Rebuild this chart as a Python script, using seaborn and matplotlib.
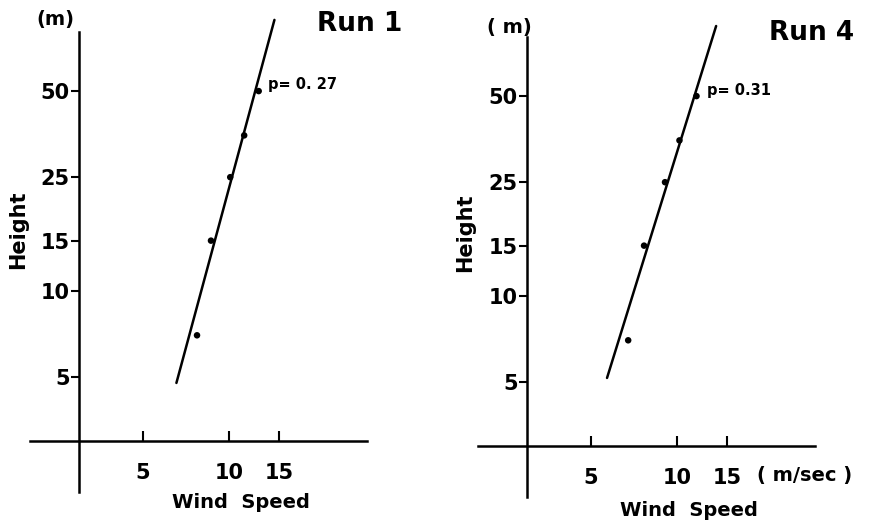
import numpy as np
import pandas as pd
import matplotlib
matplotlib.use("Agg")
import matplotlib.pyplot as plt
import seaborn as sns
from matplotlib.ticker import FixedLocator, FixedFormatter, NullLocator

# Measurement heights (m) and mean wind speeds (m/s) for two runs
heights = [7, 15, 25, 35, 50]
run1_speed = [7.73, 8.65, 10.1, 11.3, 12.7]
run4_speed = [6.75, 7.67, 9.08, 10.2, 11.7]

# Power-law fits u = u_ref * (z / z_ref) ** p
run_names = ["Run 1", "Run 4"]
p_values = [0.27, 0.31]
fit_ref_speed = [9.72, 8.83]
fit_ref_height = [20.6, 21.3]
fit_height_range = [(4.77, 88.7), (5.17, 87.9)]

x_ticks = [5, 10, 15]
x_ticklabels = ["5", "10", "15"]
y_ticks = [5, 10, 15, 25, 50]
y_ticklabels = ["5", "10", "15", "25", "50"]
axis_origin = 3.0

sns.set_style("white")
plt.rcParams["font.family"] = ["DejaVu Sans"]
plt.rcParams["text.color"] = "black"

W, H = 871, 523
fig = plt.figure(figsize=(W / 100, H / 100), dpi=100)

K = 286.0  # pixels per decade on both log axes


def px_to_val(offset):
    return 10 ** (1 + offset / K)


def make_panel(x10, y10):
    left, right = x10 - 204, x10 + 141
    top, bottom = y10 - 281, y10 + 209
    ax = fig.add_axes([left / W, 1 - bottom / H, (right - left) / W, (bottom - top) / H])
    ax.set_xscale("log")
    ax.set_yscale("log")
    ax.set_xlim(px_to_val(left - x10), px_to_val(right - x10))
    ax.set_ylim(px_to_val(-(bottom - y10)), px_to_val(-(top - y10)))
    ax.patch.set_alpha(0)
    for s in ["top", "right"]:
        ax.spines[s].set_visible(False)
    ax.spines["left"].set_position(("data", axis_origin))
    ax.spines["bottom"].set_position(("data", axis_origin))
    ax.spines["left"].set_bounds(px_to_val(-201), px_to_val(259))
    ax.spines["bottom"].set_bounds(px_to_val(-199), px_to_val(138))
    for s in ["left", "bottom"]:
        ax.spines[s].set_linewidth(1.8)
        ax.spines[s].set_color("black")
    ax.xaxis.set_major_locator(FixedLocator(x_ticks))
    ax.xaxis.set_major_formatter(FixedFormatter(x_ticklabels))
    ax.yaxis.set_major_locator(FixedLocator(y_ticks))
    ax.yaxis.set_major_formatter(FixedFormatter(y_ticklabels))
    ax.xaxis.set_minor_locator(NullLocator())
    ax.yaxis.set_minor_locator(NullLocator())
    ax.tick_params(axis="x", direction="in", length=7, width=1.5, pad=16,
                   labelsize=15, bottom=True, colors="black")
    ax.tick_params(axis="y", direction="out", length=6, width=1.5, pad=1,
                   labelsize=15, left=True, colors="black")
    for lab in ax.get_xticklabels() + ax.get_yticklabels():
        lab.set_fontweight("bold")
    ax.set_xlabel("")
    ax.set_ylabel("")
    return ax


panels = [make_panel(229, 291), make_panel(677, 296)]
speeds = [run1_speed, run4_speed]

for i, ax in enumerate(panels):
    df = pd.DataFrame({"speed": speeds[i], "height": heights})
    sns.scatterplot(data=df, x="speed", y="height", ax=ax, s=22, color="black",
                    edgecolor="none", zorder=3, clip_on=False)
    z = np.geomspace(fit_height_range[i][0], fit_height_range[i][1], 50)
    u = fit_ref_speed[i] * (z / fit_ref_height[i]) ** p_values[i]
    fit = pd.DataFrame({"speed": u, "height": z})
    sns.lineplot(data=fit, x="speed", y="height", ax=ax, sort=False, estimator=None,
                 color="black", linewidth=1.8, clip_on=False)
    ax.set_xlabel("")
    ax.set_ylabel("")
    for lab in ax.get_xticklabels() + ax.get_yticklabels():
        lab.set_fontweight("bold")


def ftext(x, y, s, **kw):
    kw.setdefault("fontweight", "bold")
    fig.text(x / W, 1 - y / H, s, color="black", **kw)


# Left panel text
ftext(55, 20, "(m)", fontsize=14, ha="center", va="center")
ftext(360, 24, "Run 1", fontsize=19, ha="center", va="center")
ftext(268, 84, "p= 0. 27", fontsize=10.5, ha="left", va="center")
ftext(18, 230, "Height", fontsize=15, rotation=90, ha="center", va="center")
ftext(241, 503, "Wind  Speed", fontsize=14, ha="center", va="center")

# Right panel text
ftext(509, 27, "( m)", fontsize=14, ha="center", va="center")
ftext(812, 33, "Run 4", fontsize=19, ha="center", va="center")
ftext(707, 91, "p= 0.31", fontsize=10.5, ha="left", va="center")
ftext(465, 233, "Height", fontsize=15, rotation=90, ha="center", va="center")
ftext(689, 510, "Wind  Speed", fontsize=14, ha="center", va="center")
ftext(757, 476, "( m/sec )", fontsize=14, ha="left", va="center")

fig.savefig("out.png", dpi=100)
